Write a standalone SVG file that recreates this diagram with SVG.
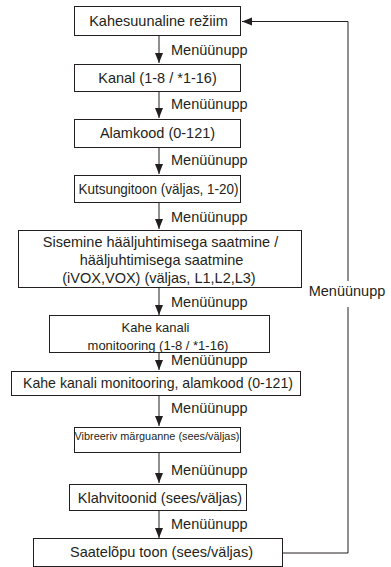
<svg xmlns="http://www.w3.org/2000/svg" width="391" height="567" viewBox="0 0 391 567">
<defs>
<style>
.box{fill:#fff;stroke:#231f20;stroke-width:1}
.t{font-family:"Liberation Sans",Arial,sans-serif;font-size:14.5px;fill:#231f20;text-anchor:middle}
.lbl{font-family:"Liberation Sans",Arial,sans-serif;font-size:14.5px;fill:#231f20}
.ln{fill:none;stroke:#231f20;stroke-width:1}
</style>
<marker id="ah" markerUnits="userSpaceOnUse" markerWidth="10" markerHeight="10" viewBox="0 0 10 10" refX="10" refY="5" orient="auto">
<path d="M0,1 L10,5 L0,9 Z" fill="#231f20"/>
</marker>
</defs>
<rect width="391" height="567" fill="#fff"/>
<g id="connectors">
<line class="ln" x1="159" y1="36" x2="159" y2="63" marker-end="url(#ah)"/>
<line class="ln" x1="159" y1="92" x2="159" y2="118" marker-end="url(#ah)"/>
<line class="ln" x1="159" y1="148" x2="159" y2="174" marker-end="url(#ah)"/>
<line class="ln" x1="159" y1="203" x2="159" y2="229" marker-end="url(#ah)"/>
<line class="ln" x1="159" y1="288" x2="159" y2="315" marker-end="url(#ah)"/>
<line class="ln" x1="159" y1="353" x2="159" y2="370" marker-end="url(#ah)"/>
<line class="ln" x1="159" y1="396" x2="159" y2="426" marker-end="url(#ah)"/>
<line class="ln" x1="159" y1="453" x2="159" y2="483" marker-end="url(#ah)"/>
<line class="ln" x1="159" y1="511" x2="159" y2="538" marker-end="url(#ah)"/>
<polyline class="ln" points="283,553 348,553 348,21.5 242,21.5" marker-end="url(#ah)"/>
<text class="lbl" x="171" y="55">Menüünupp</text>
<text class="lbl" x="171" y="109">Menüünupp</text>
<text class="lbl" x="171" y="165">Menüünupp</text>
<text class="lbl" x="171" y="222">Menüünupp</text>
<text class="lbl" x="171" y="307">Menüünupp</text>
<text class="lbl" x="171" y="365">Menüünupp</text>
<text class="lbl" x="171" y="413">Menüünupp</text>
<text class="lbl" x="171" y="475">Menüünupp</text>
<text class="lbl" x="171" y="529">Menüünupp</text>
<rect x="306" y="281" width="84" height="26" fill="#fff"/>
<text class="t" x="347" y="296">Menüünupp</text>
</g>
<g id="n1">
<rect class="box" x="74.5" y="6.5" width="166" height="29"/>
<text class="t" x="158.5" y="26">Kahesuunaline režiim</text>
</g>
<g id="n2">
<rect class="box" x="74.5" y="64.5" width="166" height="27"/>
<text class="t" x="157.5" y="83">Kanal (1-8 / *1-16)</text>
</g>
<g id="n3">
<rect class="box" x="74.5" y="119.5" width="166" height="28"/>
<text class="t" x="157.5" y="138">Alamkood (0-121)</text>
</g>
<g id="n4">
<rect class="box" x="74.5" y="175.5" width="166" height="27"/>
<text class="t" x="158.5" y="194" textLength="160" lengthAdjust="spacingAndGlyphs">Kutsungitoon (väljas, 1-20)</text>
</g>
<g id="n5">
<rect class="box" x="18.5" y="230.5" width="283" height="57"/>
<text class="t" x="160.5" y="247">Sisemine hääljuhtimisega saatmine /</text>
<text class="t" x="161.5" y="265">hääljuhtimisega saatmine</text>
<text class="t" x="159" y="283">(iVOX,VOX) (väljas, L1,L2,L3)</text>
</g>
<g id="n6">
<rect class="box" x="49.5" y="315.5" width="220" height="37"/>
<text class="t" x="155.5" y="332" style="font-size:13px">Kahe kanali</text>
<text class="t" x="158" y="350" style="font-size:13px">monitooring (1-8 / *1-16)</text>
</g>
<g id="n7">
<rect class="box" x="11.5" y="371.5" width="289" height="24"/>
<text class="t" x="158" y="388" textLength="270" lengthAdjust="spacingAndGlyphs">Kahe kanali monitooring, alamkood (0-121)</text>
</g>
<g id="n8">
<rect class="box" x="74.5" y="427.5" width="166" height="25"/>
<text class="t" x="157" y="440" style="font-size:11px" textLength="165" lengthAdjust="spacingAndGlyphs">Vibreeriv märguanne (sees/väljas)</text>
</g>
<g id="n9">
<rect class="box" x="69.5" y="484.5" width="177" height="26"/>
<text class="t" x="160" y="503">Klahvitoonid (sees/väljas)</text>
</g>
<g id="n10">
<rect class="box" x="33.5" y="538.5" width="249" height="28"/>
<text class="t" x="161.5" y="557">Saatelõpu toon (sees/väljas)</text>
</g>
</svg>
